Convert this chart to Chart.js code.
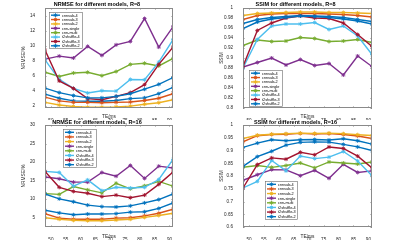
<!DOCTYPE html>
<html>
<head>
<meta charset="utf-8">
<script src="https://cdn.jsdelivr.net/npm/chart.js@4.4.0/dist/chart.umd.min.js"></script>
<style>
  html, body { margin: 0; padding: 0; background: #fff; }
  #wrap { position: relative; width: 400px; height: 240px; overflow: hidden; }
  canvas { position: absolute; }
</style>
</head>
<body>
<div id="wrap">
  <canvas id="nrmse8" width="200" height="120" style="left:0;top:0"></canvas>
  <canvas id="ssim8" width="200" height="120" style="left:200px;top:0"></canvas>
  <canvas id="nrmse16" width="200" height="120" style="left:0;top:120px"></canvas>
  <canvas id="ssim16" width="200" height="120" style="left:200px;top:120px"></canvas>
</div>
<script>
// echo times (x) and model names
const te = [48, 52.8, 57.6, 62.4, 67.2, 72, 76.8, 81.6, 86.4, 91.2];
const models = ["cnnsub-4", "cnnsub-3", "cnnsub-2", "cnn-single", "cnn-multi",
  "t2shuffle-4", "t2shuffle-3", "t2shuffle-2"];
const colors = ["#0072BD", "#D95319", "#EDB120", "#7E2F8E", "#77AC30",
  "#4DBEEE", "#A2142F", "#0072BD"];

// rows follow the order of models
const nrmseR8 = [
  [3.55, 3.0, 2.65, 2.6, 2.6, 2.7, 2.95, 3.05, 3.6, 4.45],
  [3.15, 2.65, 2.45, 2.45, 2.4, 2.45, 2.5, 2.7, 3.0, 3.6],
  [2.45, 2.1, 1.9, 1.8, 1.8, 1.85, 1.95, 2.2, 2.4, 2.8],
  [8.2, 8.6, 8.35, 9.9, 8.7, 10.1, 10.55, 13.6, 9.8, 12.5],
  [6.45, 5.9, 6.35, 6.45, 6.0, 6.55, 7.5, 7.65, 7.3, 8.3],
  [8.1, 5.5, 4.3, 3.7, 4.0, 3.95, 5.5, 5.45, 7.8, 10.8],
  [9.4, 5.3, 4.3, 2.95, 2.8, 3.25, 3.75, 4.8, 7.5, 9.8],
  [4.35, 3.75, 3.35, 3.05, 3.05, 3.25, 3.6, 4.2, 4.85, 5.75]
];
const ssimR8 = [
  [0.969, 0.977, 0.981, 0.983, 0.985, 0.984, 0.983, 0.981, 0.977, 0.973],
  [0.977, 0.985, 0.988, 0.989, 0.989, 0.989, 0.988, 0.987, 0.985, 0.982],
  [0.985, 0.989, 0.99, 0.991, 0.992, 0.992, 0.991, 0.991, 0.99, 0.989],
  [0.882, 0.891, 0.9, 0.886, 0.897, 0.885, 0.889, 0.866, 0.904, 0.883],
  [0.925, 0.936, 0.933, 0.934, 0.941, 0.939, 0.933, 0.934, 0.937, 0.931],
  [0.88, 0.937, 0.964, 0.968, 0.968, 0.971, 0.957, 0.964, 0.944, 0.907],
  [0.883, 0.955, 0.97, 0.98, 0.984, 0.98, 0.979, 0.97, 0.947, 0.923],
  [0.959, 0.972, 0.978, 0.981, 0.984, 0.983, 0.981, 0.978, 0.974, 0.968]
];
const nrmseR16 = [
  [7.0, 6.3, 5.8, 6.0, 6.0, 6.1, 6.5, 6.6, 7.5, 9.0],
  [6.1, 4.9, 4.6, 4.6, 4.6, 4.9, 5.0, 5.5, 6.2, 7.3],
  [5.0, 4.6, 4.3, 4.2, 4.2, 4.4, 4.6, 5.1, 5.6, 6.2],
  [16.0, 15.5, 14.6, 14.6, 17.2, 16.2, 19.1, 15.6, 18.9, 18.4],
  [11.5, 11.3, 13.4, 12.5, 11.7, 14.3, 12.8, 13.6, 14.8, 13.5],
  [17.5, 17.2, 13.5, 15.2, 12.3, 13.2, 13.0, 13.2, 15.3, 20.7],
  [17.5, 13.2, 12.1, 11.6, 10.7, 11.1, 10.4, 11.1, 14.0, 17.3],
  [11.4, 10.1, 9.3, 8.4, 8.0, 7.9, 8.2, 9.0, 9.9, 11.4]
];
const ssimR16 = [
  [0.912, 0.929, 0.942, 0.938, 0.942, 0.943, 0.941, 0.946, 0.938, 0.925],
  [0.934, 0.958, 0.963, 0.964, 0.967, 0.965, 0.966, 0.963, 0.957, 0.947],
  [0.947, 0.96, 0.964, 0.966, 0.968, 0.967, 0.968, 0.966, 0.962, 0.959],
  [0.783, 0.805, 0.825, 0.824, 0.801, 0.822, 0.791, 0.846, 0.814, 0.82],
  [0.834, 0.841, 0.834, 0.841, 0.851, 0.832, 0.855, 0.851, 0.847, 0.855],
  [0.753, 0.779, 0.861, 0.82, 0.878, 0.868, 0.874, 0.896, 0.859, 0.801],
  [0.753, 0.845, 0.871, 0.866, 0.893, 0.883, 0.914, 0.908, 0.878, 0.832],
  [0.838, 0.876, 0.897, 0.921, 0.932, 0.934, 0.933, 0.924, 0.914, 0.9]
];

// tick labels
const xTicks = [50, 55, 60, 65, 70, 75, 80, 85, 90];
const nrmse8Ticks = [2, 4, 6, 8, 10, 12, 14];
const ssim8Ticks = [0.8, 0.82, 0.84, 0.86, 0.88, 0.9, 0.92, 0.94, 0.96, 0.98, 1];
const nrmse16Ticks = [5, 10, 15, 20, 25, 30];
const ssim16Ticks = [0.6, 0.65, 0.7, 0.75, 0.8, 0.85, 0.9, 0.95, 1];

const FONT = "'Liberation Sans', Arial, sans-serif";
Chart.defaults.font.family = FONT;
Chart.defaults.color = "#262626";

// matlab-like box, inward ticks and legend inside the axes
const boxPlugin = {
  id: "matBox",
  afterDraw(chart, args, opts) {
    const { ctx, chartArea: a, scales } = chart;
    ctx.save();
    ctx.strokeStyle = "#8a8a8a";
    ctx.lineWidth = 1;
    ctx.strokeRect(Math.round(a.left) + 0.5, Math.round(a.top) + 0.5,
      Math.round(a.width) - 1, Math.round(a.height) - 1);
    ctx.beginPath();
    scales.x.ticks.forEach(t => {
      const px = Math.round(scales.x.getPixelForValue(t.value)) + 0.5;
      ctx.moveTo(px, a.bottom); ctx.lineTo(px, a.bottom - 1.5);
      ctx.moveTo(px, a.top); ctx.lineTo(px, a.top + 1.5);
    });
    scales.y.ticks.forEach(t => {
      const py = Math.round(scales.y.getPixelForValue(t.value)) + 0.5;
      ctx.moveTo(a.left, py); ctx.lineTo(a.left + 1.5, py);
      ctx.moveTo(a.right, py); ctx.lineTo(a.right - 1.5, py);
    });
    ctx.stroke();

    // legend
    const lg = opts.legend;
    ctx.fillStyle = "#fff";
    ctx.fillRect(lg.x, lg.y, lg.w, lg.h);
    ctx.strokeStyle = "#6a6a6a";
    ctx.lineWidth = 0.6;
    ctx.strokeRect(lg.x + 0.5, lg.y + 0.5, lg.w - 1, lg.h - 1);
    const ds = chart.data.datasets;
    const rowH = (lg.h - 2) / ds.length;
    ctx.font = "3.8px " + FONT;
    ctx.textBaseline = "middle";
    ds.forEach((d, i) => {
      const cy = lg.y + 1 + rowH * (i + 0.5);
      ctx.strokeStyle = d.borderColor;
      ctx.fillStyle = d.borderColor;
      ctx.lineWidth = 1.4;
      ctx.beginPath();
      ctx.moveTo(lg.x + 2, cy); ctx.lineTo(lg.x + 11, cy);
      ctx.stroke();
      ctx.lineWidth = 0.9;
      Chart.helpers.drawPoint(ctx, { pointStyle: "star", radius: 2, rotation: 0, borderWidth: 0.9 },
        lg.x + 6.5, cy);
      ctx.fillStyle = "#000";
      ctx.fillText(d.label, lg.x + 13, cy + 0.3);
    });
    ctx.restore();
  }
};

function makeChart(id, cfg) {
  const datasets = cfg.rows.map((r, i) => ({
    label: models[i],
    data: te.map((x, j) => ({ x: x, y: r[j] })),
    borderColor: colors[i],
    backgroundColor: colors[i],
    borderWidth: 1.4,
    pointStyle: "star",
    pointRadius: 2,
    pointBorderWidth: 0.9,
    order: 8 - i
  }));
  return new Chart(document.getElementById(id), {
    type: "line",
    data: { datasets: datasets },
    plugins: [boxPlugin],
    options: {
      responsive: false,
      animation: false,
      devicePixelRatio: 1,
      layout: { padding: { left: cfg.padL, right: cfg.padR, top: 0, bottom: 0 } },
      plugins: {
        legend: { display: false },
        tooltip: { enabled: false },
        title: {
          display: true,
          text: cfg.title,
          color: "#000",
          font: { size: 5.5, weight: "bold", lineHeight: 1 },
          padding: { top: cfg.titleTop, bottom: cfg.titleBottom }
        },
        matBox: { legend: cfg.legend }
      },
      scales: {
        x: {
          type: "linear",
          min: 48,
          max: 91.2,
          grid: { display: false },
          border: { display: false },
          afterBuildTicks: s => { s.ticks = xTicks.map(v => ({ value: v })); },
          afterFit: s => { s.height = cfg.xH; },
          ticks: { font: { size: 4.6 }, padding: 2, maxRotation: 0, color: "#262626" },
          title: { display: true, text: "TE/ms", font: { size: 4.8, lineHeight: 1 }, padding: { top: 0, bottom: cfg.xTitlePad }, color: "#262626" }
        },
        y: {
          min: cfg.yMin,
          max: cfg.yMax,
          grid: { display: false },
          border: { display: false },
          afterBuildTicks: s => { s.ticks = cfg.yTicks.map(v => ({ value: v })); },
          afterFit: s => { s.width = cfg.yW; },
          ticks: { font: { size: 4.6 }, padding: 2, color: "#262626", callback: v => String(+v.toFixed(3)) },
          title: { display: true, text: cfg.yTitle, font: { size: 4.8, lineHeight: 1 }, padding: 0, color: "#262626" }
        }
      }
    }
  });
}

makeChart("nrmse8", {
  rows: nrmseR8, title: "NRMSE for different models, R=8", yTitle: "NRMSE/%",
  yMin: 1.7, yMax: 15, yTicks: nrmse8Ticks,
  padL: 21, padR: 27, yW: 24, xH: 12, titleTop: 2, titleBottom: 0.5, xTitlePad: 0.5,
  legend: { x: 49, y: 12, w: 34, h: 37 }
});
makeChart("ssim8", {
  rows: ssimR8, title: "SSIM for different models, R=8", yTitle: "SSIM",
  yMin: 0.8, yMax: 1, yTicks: ssim8Ticks,
  padL: 19, padR: 28, yW: 24, xH: 12, titleTop: 2, titleBottom: 0.5, xTitlePad: 0.5,
  legend: { x: 49, y: 70, w: 34, h: 37 }
});
makeChart("nrmse16", {
  rows: nrmseR16, title: "NRMSE for different models, R=16", yTitle: "NRMSE/%",
  yMin: 2.5, yMax: 30, yTicks: nrmse16Ticks,
  padL: 21, padR: 27, yW: 24, xH: 13, titleTop: 0, titleBottom: -0.5, xTitlePad: 1,
  legend: { x: 63, y: 9, w: 34, h: 39 }
});
makeChart("ssim16", {
  rows: ssimR16, title: "SSIM for different models, R=16", yTitle: "SSIM",
  yMin: 0.6, yMax: 1, yTicks: ssim16Ticks,
  padL: 19, padR: 28, yW: 24, xH: 13, titleTop: 0, titleBottom: -0.5, xTitlePad: 1,
  legend: { x: 65, y: 61, w: 33, h: 39 }
});
</script>
</body>
</html>
